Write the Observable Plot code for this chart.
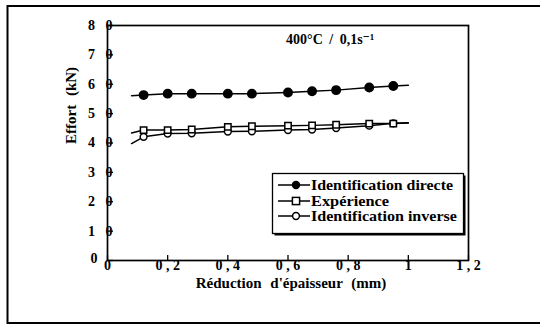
<!DOCTYPE html>
<html><head><meta charset="utf-8">
<script src="https://cdn.jsdelivr.net/npm/d3@7"></script>
<script src="https://cdn.jsdelivr.net/npm/@observablehq/plot@0.6"></script>
<style>
html,body{margin:0;padding:0;background:#fff;}
#chart{width:540px;height:324px;overflow:hidden;}
</style></head><body><div id="chart"></div>
<script>
// ---- data ----
const reduction = [0.12, 0.2, 0.28, 0.4, 0.48, 0.6, 0.68, 0.76, 0.87, 0.95];
const directe    = [56.3, 56.8, 56.8, 56.8, 56.8, 57.2, 57.6, 58.0, 58.9, 59.4];
const experience = [44.4, 44.4, 44.6, 45.5, 45.7, 45.9, 46.0, 46.2, 46.6, 46.6];
const inverse    = [42.1, 43.2, 43.3, 43.9, 44.0, 44.4, 44.6, 45.1, 45.9, 46.7];
// curve ends (lines extend beyond the markers)
const curveEndX = [0.08, 1.0];
const directeEnds    = [56.1, 59.7];
const experienceEnds = [43.4, 46.8];
const inverseEnds    = [39.8, 46.9];
const seriesNames = ["Identification directe", "Expérience", "Identification inverse"];
const xTicks = [0, 0.2, 0.4, 0.6, 0.8, 1, 1.2];
const yTicks = [0, 10, 20, 30, 40, 50, 60, 70, 80];
const annotationText = ["400°C / 0,1s⁻¹"];
const annotationX = [0.74];
const annotationY = [75.2];
const xLabel = "Réduction d'épaisseur (mm)";
const yLabel = "Effort (kN)";

// ---- build tables ----
const seriesValues = [directe, experience, inverse];
const seriesEnds = [directeEnds, experienceEnds, inverseEnds];
const markerRows = [];
const lineRows = [];
seriesNames.forEach((name, s) => {
  lineRows.push({name, x: curveEndX[0], y: seriesEnds[s][0]});
  reduction.forEach((x, i) => {
    markerRows.push({name, x, y: seriesValues[s][i]});
    lineRows.push({name, x, y: seriesValues[s][i]});
  });
  lineRows.push({name, x: curveEndX[1], y: seriesEnds[s][1]});
});
const annotations = annotationText.map((t, i) => ({t, x: annotationX[i], y: annotationY[i]}));

const W = 540, H = 324, mL = 107, mR = 72, mT = 25, mB = 64;
const fw = W - mL - mR, fh = H - mT - mB;
const serif = "'Liberation Serif', 'DejaVu Serif', serif";

const fmtY = d => `${d / 10}\u2002 0`;
const fmtX = d => (d === 0 || d === 1) ? String(d) : String(d).replace(".", " , ");

const plot = Plot.plot({
  width: W, height: H,
  marginLeft: mL, marginRight: mR, marginTop: mT, marginBottom: mB,
  x: {domain: [0, 1.2]},
  y: {domain: [0, 80]},
  style: {fontFamily: serif, fontSize: "14px", fontWeight: "bold", background: "white", color: "black", overflow: "visible"},
  marks: [
    Plot.lineY(lineRows, {x: "x", y: "y", z: "name", stroke: "black", strokeWidth: 1.5}),
    Plot.dot(markerRows.filter(d => d.name === seriesNames[2]), {x: "x", y: "y", r: 3.4, fill: "white", stroke: "black", strokeWidth: 1.5}),
    Plot.dot(markerRows.filter(d => d.name === seriesNames[1]), {x: "x", y: "y", symbol: "square", r: 3.6, fill: "white", stroke: "black", strokeWidth: 1.5}),
    Plot.dot(markerRows.filter(d => d.name === seriesNames[0]), {x: "x", y: "y", r: 4.2, fill: "black", stroke: "black"}),
    Plot.tickY(yTicks, {y: d => d, insetRight: fw - 6, stroke: "black", strokeWidth: 1.3}),
    Plot.tickX(xTicks, {x: d => d, insetTop: fh - 5, stroke: "black", strokeWidth: 1.3}),
    Plot.frame({stroke: "black", strokeWidth: 1.7}),
    Plot.axisY({ticks: yTicks.filter(d => d !== 0), tickSize: 0, tickPadding: 0, dx: 5, tickFormat: fmtY, label: null, fontSize: 14, fontWeight: "bold"}),
    Plot.axisY({ticks: yTicks.filter(d => d === 0), tickSize: 0, tickPadding: 0, dx: -10, dy: -2, tickFormat: d => String(d), label: null, fontSize: 14, fontWeight: "bold"}),
    Plot.axisX({ticks: xTicks, tickSize: 0, tickPadding: 0, dy: 0, tickFormat: fmtX, label: null, fontSize: 14, fontWeight: "bold"}),
    Plot.text([yLabel], {frameAnchor: "left", dx: -36, dy: 1, rotate: -90, fontSize: 15, fontWeight: "bold"}),
    Plot.text([xLabel], {frameAnchor: "bottom", dx: 3, dy: 23, fontSize: 15, fontWeight: "bold", lineAnchor: "middle"}),
    Plot.text(annotations, {x: "x", y: "y", text: "t", fontSize: 14, fontWeight: "bold"})
  ]
});
document.getElementById("chart").append(plot);

const svg = d3.select(plot);
// wider word spacing, as in the scanned lettering
svg.selectAll("text").filter(function() { return this.textContent === xLabel || this.textContent === yLabel; })
  .attr("word-spacing", 5);
svg.selectAll("text").filter(function() { return this.textContent === annotationText[0]; })
  .attr("word-spacing", 3);

// ---- legend box (inside plot area) and outer border ----
const lg = svg.append("g");
const bx = 272.5, by = 173.5, bw = 191, bh = 60;
lg.append("rect").attr("x", bx + 2).attr("y", by + 2).attr("width", bw).attr("height", bh).attr("fill", "black");
lg.append("rect").attr("x", bx).attr("y", by).attr("width", bw).attr("height", bh).attr("fill", "white").attr("stroke", "black").attr("stroke-width", 1.3);
const rowY = [185, 201, 216];
const textW = [142, 78, 146];
seriesNames.forEach((name, i) => {
  const y = rowY[i];
  lg.append("line").attr("x1", 278).attr("x2", 310).attr("y1", y).attr("y2", y).attr("stroke", "black").attr("stroke-width", 1.5);
  if (i === 0) lg.append("circle").attr("cx", 296).attr("cy", y).attr("r", 4.2).attr("fill", "black");
  if (i === 1) lg.append("rect").attr("x", 292.4).attr("y", y - 3.6).attr("width", 7.2).attr("height", 7.2).attr("fill", "white").attr("stroke", "black").attr("stroke-width", 1.5);
  if (i === 2) lg.append("circle").attr("cx", 296).attr("cy", y).attr("r", 3.4).attr("fill", "white").attr("stroke", "black").attr("stroke-width", 1.5);
  lg.append("text").attr("x", 311).attr("y", y + 5).attr("font-size", 15).attr("font-weight", "bold")
    .attr("text-anchor", "start")
    .attr("font-family", serif).attr("textLength", textW[i]).attr("lengthAdjust", "spacingAndGlyphs").text(name);
});
svg.append("rect").attr("x", 7.5).attr("y", 6).attr("width", 600).attr("height", 317).attr("fill", "none").attr("stroke", "black").attr("stroke-width", 2);
</script>
</body></html>
